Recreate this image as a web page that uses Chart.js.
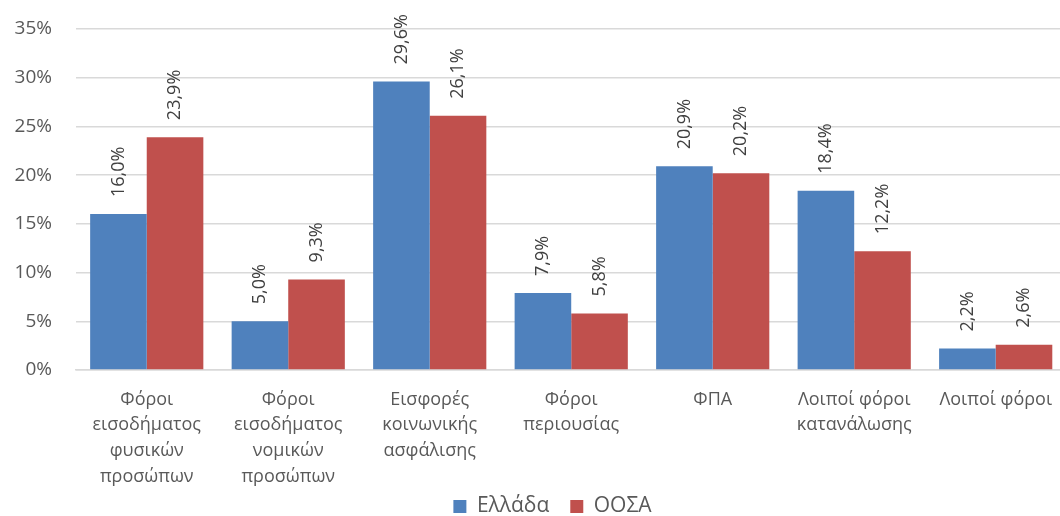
<!DOCTYPE html>
<html>
<head>
<meta charset="utf-8">
<script src="https://cdn.jsdelivr.net/npm/chart.js@4.4.1/dist/chart.umd.min.js"></script>
<style>
  html, body { margin: 0; padding: 0; background: #ffffff; overflow: hidden; width: 1060px; height: 516px; }
  #wrap { position: absolute; left: 0; top: 0; width: 1069px; height: 516px; }
  canvas { display: block; }
</style>
</head>
<body>
<div id="wrap"><canvas id="c" width="1069" height="516" style="width:1069px;height:516px"></canvas></div>
<script>
const categories = [
  ['Φόροι', 'εισοδήματος', 'φυσικών', 'προσώπων'],
  ['Φόροι', 'εισοδήματος', 'νομικών', 'προσώπων'],
  ['Εισφορές', 'κοινωνικής', 'ασφάλισης'],
  ['Φόροι', 'περιουσίας'],
  'ΦΠΑ',
  ['Λοιποί φόροι', 'κατανάλωσης'],
  'Λοιποί φόροι'
];
const seriesNames = ['Ελλάδα', 'ΟΟΣΑ'];
const greece = [16.0, 5.0, 29.6, 7.9, 20.9, 18.4, 2.2];
const oecd = [23.9, 9.3, 26.1, 5.8, 20.2, 12.2, 2.6];
const yTicks = [0, 5, 10, 15, 20, 25, 30, 35];

const FONT = "'Open Sans', 'Noto Sans', sans-serif";
const LEGEND_PAD = 21;

const valueLabels = {
  id: 'valueLabels',
  afterDatasetsDraw(chart) {
    const ctx = chart.ctx;
    ctx.save();
    ctx.font = '18px ' + FONT;
    ctx.fillStyle = '#404040';
    ctx.textAlign = 'left';
    ctx.textBaseline = 'middle';
    chart.data.datasets.forEach((ds, di) => {
      const meta = chart.getDatasetMeta(di);
      meta.data.forEach((el, i) => {
        const txt = ds.data[i].toFixed(1).replace('.', ',') + '%';
        ctx.save();
        ctx.translate(el.x, el.y - 17);
        ctx.rotate(-Math.PI / 2);
        ctx.fillText(txt, 0, 0);
        ctx.restore();
      });
    });
    ctx.restore();
  }
};

// keep the legend compact in the layout and place it where the reference has it
const legendPlace = {
  id: 'legendPlace',
  beforeLayout(chart) {
    const lg = chart.legend;
    if (lg && !lg._patched) {
      const origFit = lg.fit;
      lg.fit = function () { origFit.call(this); this.height = 26; };
      lg._patched = true;
    }
  },
  afterLayout(chart) {
    const lg = chart.legend;
    if (lg) {
      lg.left += 18;
      lg.right += 18;
      lg.top = 505 - LEGEND_PAD - 9;
      lg.bottom = lg.top + LEGEND_PAD * 2 + 30;
    }
  }
};

new Chart(document.getElementById('c'), {
  type: 'bar',
  data: {
    labels: categories,
    datasets: [
      { label: seriesNames[0], data: greece, backgroundColor: '#4F81BD', borderWidth: 0 },
      { label: seriesNames[1], data: oecd, backgroundColor: '#C0504D', borderWidth: 0 }
    ]
  },
  options: {
    responsive: false,
    animation: false,
    devicePixelRatio: 1,
    layout: { padding: { left: 0, right: 0, top: 29, bottom: 0 } },
    datasets: { bar: { barPercentage: 1.0, categoryPercentage: 0.8 } },
    plugins: {
      legend: {
        position: 'bottom',
        labels: {
          boxWidth: 13,
          boxHeight: 13,
          padding: LEGEND_PAD,
          color: '#595959',
          font: { family: FONT, size: 21 }
        }
      },
      tooltip: { enabled: false }
    },
    scales: {
      x: {
        afterFit(scale) { scale.height = 120; },
        grid: { display: false, drawTicks: false },
        border: { display: true, color: '#d9d9d9', width: 1.5 },
        ticks: {
          color: '#595959',
          padding: 17,
          maxRotation: 0,
          autoSkip: false,
          font: { family: FONT, size: 18, lineHeight: 1.42 }
        }
      },
      y: {
        min: 0,
        max: 35,
        afterFit(scale) { scale.width = 76; scale.paddingTop = 11; scale.paddingBottom = 11; },
        afterBuildTicks(scale) { scale.ticks = yTicks.map(v => ({ value: v })); },
        grid: { color: '#d9d9d9', lineWidth: 1.5, drawTicks: false },
        border: { display: false },
        ticks: {
          color: '#595959',
          padding: 24,
          font: { family: FONT, size: 19 },
          callback: (v) => v + '%'
        }
      }
    }
  },
  plugins: [valueLabels, legendPlace]
});
</script>
</body>
</html>
